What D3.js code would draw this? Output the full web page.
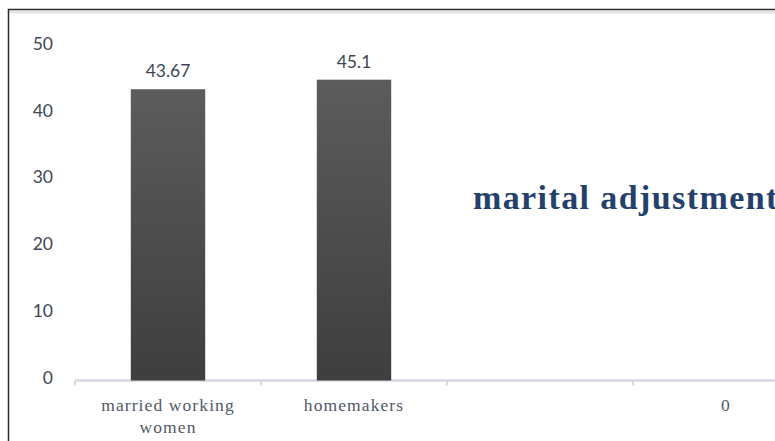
<!DOCTYPE html>
<html>
<head>
<meta charset="utf-8">
<script src="https://cdn.jsdelivr.net/npm/d3@7"></script>
<style>
html,body{margin:0;padding:0;background:#fff;overflow:hidden;}
svg{display:block;}
</style>
</head>
<body>
<svg id="chart" width="775" height="441"></svg>
<script>
const categories = [["married working", "women"], ["homemakers"], [""], ["0"]];
const values = [43.67, 45.1, null, null];
const valueLabels = ["43.67", "45.1", "", ""];
const yTicks = [0, 10, 20, 30, 40, 50];
const title = "marital adjustment";

const svg = d3.select("#chart");
const W = 775, H = 441;

// outer frame
svg.append("rect").attr("x", 0).attr("y", 0).attr("width", W).attr("height", H).attr("fill", "#fff");
svg.append("rect").attr("x", 8.5).attr("y", 11).attr("width", W).attr("height", 2.5).attr("fill", "#e4e4e4");
svg.append("path").attr("d", `M8.5,${H} V9.5 H${W}`).attr("fill", "none").attr("stroke", "#2a2a2a").attr("stroke-width", 1.5);

const idx = categories.map((d, i) => i);
const x = d3.scaleBand().domain(idx).range([75, 819]).paddingInner(0.6).paddingOuter(0.3);
const step = x.step();
const y = d3.scaleLinear().domain([0, 50]).range([380.5, 47]);

// gradient
const defs = svg.append("defs");
const g = defs.append("linearGradient").attr("id", "barGrad").attr("x1", 0).attr("y1", 0).attr("x2", 0).attr("y2", 1);
g.append("stop").attr("offset", "0%").attr("stop-color", "#5c5c5c");
g.append("stop").attr("offset", "100%").attr("stop-color", "#3e3e3e");

// y labels
svg.append("g").selectAll("text").data(yTicks).join("text")
  .attr("x", 53).attr("y", d => y(d) + 3)
  .attr("text-anchor", "end")
  .attr("font-family", "Lato, sans-serif").attr("font-size", 17.5)
  .attr("fill", "#3d4757")
  .text(d => d);

// x axis line and ticks
const axisY = 380.5;
svg.append("line").attr("x1", 75).attr("x2", W).attr("y1", axisY).attr("y2", axisY)
  .attr("stroke", "#d5d9e0").attr("stroke-width", 2.5);
svg.append("g").selectAll("line").data(d3.range(categories.length + 1)).join("line")
  .attr("x1", i => 75 + i * step).attr("x2", i => 75 + i * step)
  .attr("y1", axisY).attr("y2", axisY + 5)
  .attr("stroke", "#d5d9e0").attr("stroke-width", 2);

// bars
const barData = idx.filter(i => values[i] != null);
svg.append("g").selectAll("rect").data(barData).join("rect")
  .attr("x", i => x(i)).attr("width", x.bandwidth())
  .attr("y", i => y(values[i])).attr("height", i => y(0) - y(values[i]))
  .attr("fill", "url(#barGrad)");

// value labels
svg.append("g").selectAll("text").data(barData).join("text")
  .attr("x", i => x(i) + x.bandwidth() / 2)
  .attr("y", i => y(values[i]) - 12)
  .attr("text-anchor", "middle")
  .attr("font-family", "Lato, sans-serif").attr("font-size", 17.5)
  .attr("fill", "#3d4757")
  .text(i => valueLabels[i]);

// category labels
const cl = svg.append("g").selectAll("text").data(idx).join("text")
  .attr("x", i => x(i) + x.bandwidth() / 2)
  .attr("y", 410.5)
  .attr("text-anchor", "middle")
  .attr("font-family", "'Liberation Serif', 'Times New Roman', serif").attr("font-size", 17.5)
  .attr("letter-spacing", 1.1)
  .attr("fill", "#505866");
cl.selectAll("tspan").data(i => categories[i]).join("tspan")
  .attr("x", function() { return d3.select(this.parentNode).attr("x"); })
  .attr("dy", (d, j) => j === 0 ? 0 : 22)
  .text(d => d);

// title
svg.append("text").attr("x", 473).attr("y", 209)
  .attr("font-family", "'Liberation Serif', 'Times New Roman', serif")
  .attr("font-weight", "bold").attr("font-size", 34)
  .attr("letter-spacing", 1.4)
  .attr("fill", "#24416b")
  .text(title);
</script>
</body>
</html>
